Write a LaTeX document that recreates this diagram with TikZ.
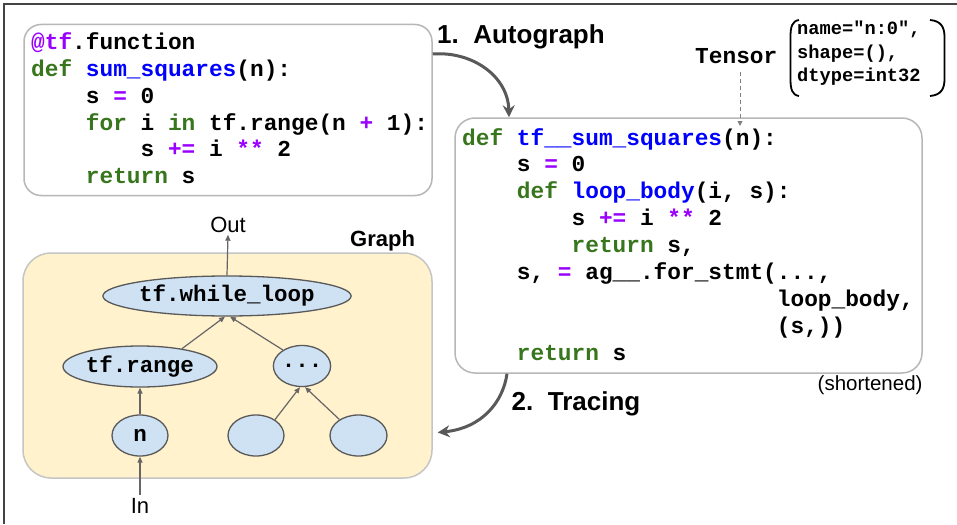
\documentclass[tikz,border=0pt]{standalone}
\usepackage{fontspec}
\setmainfont{Liberation Sans}
\setmonofont{Liberation Mono}
\usetikzlibrary{arrows.meta,shapes.geometric}
\definecolor{kwgreen}{HTML}{38761D}
\definecolor{fnblue}{HTML}{0000FF}
\definecolor{oppurple}{HTML}{9900FF}
\definecolor{boxgray}{HTML}{B7B7B7}
\definecolor{graphfill}{HTML}{FFF2CC}
\definecolor{nodefill}{HTML}{CFE2F3}
\definecolor{nodeline}{HTML}{595959}
\definecolor{arrowgray}{HTML}{595959}
\definecolor{smallarrow}{HTML}{666666}
\definecolor{framegray}{HTML}{444444}
\newcommand\cKw[1]{\textcolor{kwgreen}{#1}}
\newcommand\cFn[1]{\textcolor{fnblue}{#1}}
\newcommand\cOp[1]{\textcolor{oppurple}{#1}}
\newcommand\codefont{\fontsize{22.8}{27}\selectfont\ttfamily\bfseries}
\newcommand\nodefont{\fontsize{22.5}{27}\selectfont\ttfamily\bfseries}
\newcommand\parfont{\fontsize{18.7}{23}\selectfont\ttfamily\bfseries}
\frenchspacing
\begin{document}
\begin{tikzpicture}[x=1pt,y=-1pt,
  codeline/.style={anchor=base west, inner sep=0pt, font=\codefont},
  parline/.style={anchor=base west, inner sep=0pt, font=\parfont},
  codebox/.style={draw=boxgray, line width=1.5pt, rectangle, inner sep=0pt},
  gnode/.style={ellipse, draw=nodeline, fill=nodefill, line width=1.3pt, inner sep=0pt, font=\nodefont},
  garrow/.style={draw=smallarrow, line width=1.2pt, -{Triangle[length=6pt,width=5pt]}},
  bigarrow/.style={draw=arrowgray, line width=3pt, -{Stealth[length=12pt,width=12pt,inset=4pt]}},
  title/.style={anchor=base west, inner sep=0pt, font=\fontsize{26}{30}\selectfont\bfseries},
  plain/.style={inner sep=2pt, font=\fontsize{22}{26}\selectfont}
]
\useasboundingbox (0,0) rectangle (957,524);
\fill[white] (0,0) rectangle (957,524);
\draw[framegray, line width=1.5pt] (4,524) -- (4,4) -- (957,4);

% boxes
\node[codebox, rounded corners=17pt, minimum width=408pt, minimum height=171pt] (src) at (228,110) {};
\node[codebox, rounded corners=20pt, minimum width=467pt, minimum height=255pt] (tgt) at (688.5,245.5) {};
\node[codebox, draw=boxgray!80, fill=graphfill, rounded corners=28pt, minimum width=409pt, minimum height=225pt] (gbox) at (227.5,365.5) {};

% left code
\node[codeline] (l1) at (31,49.3) {\cOp{@tf}.function};
\node[codeline] (l2) at (31,76.2) {\cKw{def} \cFn{sum\_squares}(n):};
\node[codeline] (l3) at (31,103.1) {\phantom{0000}s \cOp{=} 0};
\node[codeline] (l4) at (31,130.0) {\phantom{0000}\cKw{for} i \cKw{in} tf.range(n \cOp{+} 1):};
\node[codeline] (l5) at (31,156.9) {\phantom{00000000}s \cOp{+=} i \cOp{**} 2};
\node[codeline] (l6) at (31,183.8) {\phantom{0000}\cKw{return} s};

% right code
\node[codeline] (r1) at (462,145.0) {\cKw{def} \cFn{tf\_\_sum\_squares}(n):};
\node[codeline] (r2) at (462,171.9) {\phantom{0000}s \cOp{=} 0};
\node[codeline] (r3) at (462,198.8) {\phantom{0000}\cKw{def} \cFn{loop\_body}(i, s):};
\node[codeline] (r4) at (462,225.7) {\phantom{00000000}s \cOp{+=} i \cOp{**} 2};
\node[codeline] (r5) at (462,252.6) {\phantom{00000000}\cKw{return} s,};
\node[codeline] (r6) at (462,279.5) {\phantom{0000}s, \cOp{=} ag\_\_.for\_stmt(...,};
\node[codeline] (r7) at (462,306.4) {\phantom{00000000000000000000000}loop\_body,};
\node[codeline] (r8) at (462,333.3) {\phantom{00000000000000000000000}(s,))};
\node[codeline] (r9) at (462,360.2) {\phantom{0000}\cKw{return} s};

% labels
\node[title] (t1) at (437,43.3) {1.\ \ Autograph};
\node[title] (t2) at (511.5,410) {2.\ \ Tracing};
\node[anchor=base west, inner sep=0pt, font=\fontsize{22}{26}\selectfont\bfseries] (glabel) at (350,246.7) {Graph};
\node[anchor=base east, inner sep=0pt, font=\fontsize{20.5}{24}\selectfont] (short) at (922.7,390) {(shortened)};

% tensor
\node[codeline] (tensor) at (695,63.3) {Tensor};
\node[parline] (p1) at (797,35) {name="n:0",};
\node[parline] (p2) at (797,58.5) {shape=(),};
\node[parline] (p3) at (797,82) {dtype=int32};
\draw[black, line width=1.8pt] (799,20) .. controls (792,21) and (790.5,27) .. (790.5,37) -- (790.5,79) .. controls (790.5,89) and (792,95) .. (799,96);
\draw[black, line width=1.8pt] (930,20) .. controls (941,21) and (944.5,27) .. (944.5,37) -- (944.5,79) .. controls (944.5,89) and (941,95) .. (930,96);
\coordinate (narg) at (740,126);
\draw[draw=gray, line width=1pt, dash pattern=on 4pt off 3pt, -{Triangle[length=5pt,width=5pt]}] (740,72) -- (narg);

% big arrows
\draw[bigarrow] (src.east |- 0,54) .. controls (472,51) and (508,76) .. (509,0 |- tgt.north);
\draw[bigarrow, shorten >=5pt] (507,0 |- tgt.south) .. controls (503,402) and (482,428) .. (gbox.east |- 0,433);

% graph
\node[gnode, minimum width=216pt, minimum height=40pt] (wl) at (227,296) {tf.while\_loop};
\node[gnode, minimum width=154pt, minimum height=41pt] (tr) at (140,366.5) {tf.range};
\node[gnode, minimum width=56pt, minimum height=41pt] (dots) at (302,366) {...};
\node[gnode, minimum width=56pt, minimum height=41pt] (n) at (140,435.5) {n};
\node[gnode, minimum width=56pt, minimum height=41pt] (e1) at (256,435.5) {};
\node[gnode, minimum width=57pt, minimum height=41pt] (e2) at (358.5,435.5) {};
\node[plain, anchor=base] (out) at (228,232.3) {Out};
\node[plain, anchor=base, inner sep=3pt] (in) at (140,513) {In};

\draw[garrow] (wl.north) -- (out.south);
\draw[garrow] (tr.23) -- ([xshift=-2pt]wl.south);
\draw[garrow] (dots.140) -- ([xshift=3pt]wl.south);
\draw[garrow] (n.north) -- (tr.south);
\draw[garrow] (e1.40) -- ([xshift=-2pt]dots.south);
\draw[garrow] (e2.140) -- ([xshift=3pt]dots.south);
\draw[garrow] (in.north) -- (n.south);
\end{tikzpicture}
\end{document}
